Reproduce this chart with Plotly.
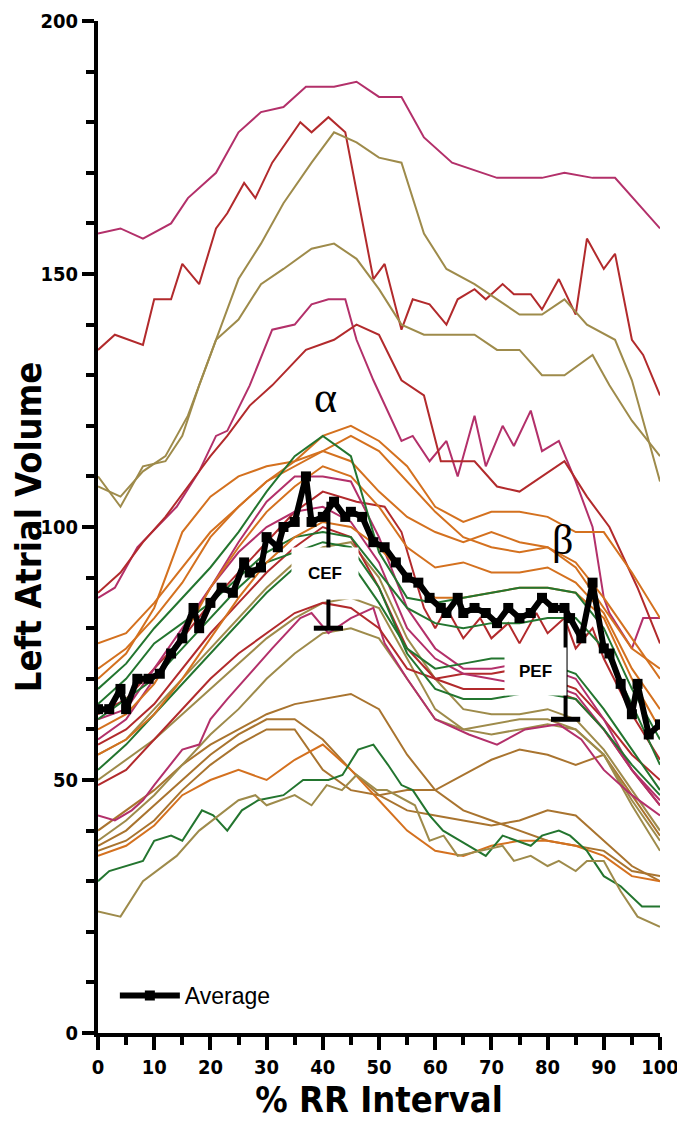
import plotly.graph_objects as go

# colours of the individual patient curves
MAG = '#B3306A'
RED = '#B22A2C'
OLV = '#9E8B4B'
BRN = '#A9742F'
ORG = '#D4711F'
GRN = '#23752F'

grid_x = [0, 5, 10, 15, 20, 25, 30, 35, 40, 45, 50, 55, 60, 65, 70, 75, 80, 85, 90, 95, 100]

# --- upper, well separated curves ---
mag_top_x = [0, 4, 8, 13, 16, 21, 25, 29, 33, 37, 42, 46, 50, 54, 58, 63, 71, 79, 83, 88, 92, 100]
mag_top_y = [158, 159, 157, 160, 165, 170, 178, 182, 183, 187, 187, 188, 185, 185, 177, 172, 169, 169, 170, 169, 169, 159]

red_top_x = [0, 3, 8, 10, 13, 15, 18, 21, 23, 26, 28, 31, 36, 38, 41, 44, 49, 51, 54, 56, 59, 62, 64, 67,
             69, 72, 74, 77, 79, 82, 85, 87, 90, 92, 95, 97, 100]
red_top_y = [135, 138, 136, 145, 145, 152, 148, 159, 162, 168, 165, 172, 180, 178, 181, 178, 149, 152, 139, 145,
             144, 140, 145, 147, 145, 148, 146, 146, 143, 149, 142, 157, 151, 154, 137, 134, 126]

olv_b_x = [0, 4, 8, 12, 15, 18, 22, 25, 29, 33, 38, 42, 46, 50, 54, 58, 62, 67, 75, 79, 83, 87, 92, 95, 100]
olv_b_y = [110, 104, 112, 113, 118, 128, 140, 149, 156, 164, 172, 178, 176, 173, 172, 158, 151, 148, 142, 142,
           145, 140, 137, 129, 109]

olv_a_x = [0, 4, 8, 12, 16, 21, 25, 29, 33, 38, 42, 46, 50, 54, 58, 67, 71, 75, 79, 83, 88, 91, 95, 100]
olv_a_y = [108, 106, 111, 114, 122, 137, 141, 148, 151, 155, 156, 153, 147, 140, 138, 138, 135, 135, 130, 130,
           134, 128, 121, 114]

mag_jag_x = [0, 3, 7, 14, 18, 21, 23, 27, 31, 35, 38, 41, 44, 46, 49, 54, 56, 59, 62, 64, 67, 69, 72, 74, 77,
             79, 82, 85, 88, 90, 91, 95, 97, 100]
mag_jag_y = [86, 88, 96, 104, 111, 118, 119, 128, 139, 140, 144, 145, 145, 137, 129, 117, 118, 113, 117, 110,
             122, 112, 120, 116, 123, 115, 117, 109, 100, 86, 83, 76, 82, 82]

red_mid_x = [0, 4, 8, 12, 16, 20, 23, 27, 31, 37, 42, 46, 50, 54, 58, 61, 67, 71, 75, 83, 87, 91, 96, 100]
red_mid_y = [87, 91, 97, 102, 108, 114, 118, 124, 128, 135, 137, 140, 138, 129, 126, 113, 113, 108, 107, 113,
             106, 100, 88, 77]

# --- central cluster (values at grid_x) ---
org_1 = [77, 79, 85, 92, 99, 104, 109, 113, 118, 120, 117, 112, 104, 101, 103, 103, 102, 99, 99, 91, 82]
org_2 = [72, 76, 82, 89, 98, 104, 109, 112, 115, 118, 115, 109, 103, 98, 96, 95, 96, 93, 86, 78, 70]
org_3 = [60, 63, 69, 78, 88, 96, 103, 108, 112, 110, 104, 96, 92, 93, 91, 91, 92, 89, 83, 72, 64]
org_4 = [55, 58, 63, 70, 78, 86, 93, 98, 101, 100, 96, 90, 86, 86, 87, 88, 88, 87, 82, 70, 60]
org_5 = [70, 75, 84, 99, 106, 110, 112, 113, 115, 113, 107, 102, 99, 97, 99, 97, 96, 92, 84, 76, 72]
org_low = [35, 37, 41, 47, 50, 52, 50, 54, 57, 52, 46, 40, 36, 35, 37, 38, 38, 37, 35, 31, 30]

grn_1 = [68, 73, 80, 86, 92, 99, 107, 114, 118, 114, 95, 86, 85, 86, 87, 88, 88, 87, 80, 68, 58]
grn_2 = [65, 70, 77, 81, 85, 90, 95, 98, 99, 98, 91, 84, 81, 80, 81, 81, 82, 82, 76, 65, 53]
grn_3 = [62, 66, 70, 76, 82, 88, 93, 95, 97, 96, 88, 75, 68, 66, 66, 67, 67, 66, 60, 53, 47]
grn_4 = [52, 57, 63, 69, 75, 81, 87, 92, 95, 93, 85, 76, 72, 73, 74, 74, 73, 71, 64, 56, 48]

mag_1 = [58, 62, 70, 79, 88, 97, 105, 110, 110, 109, 98, 84, 76, 72, 72, 73, 72, 70, 62, 52, 45]
mag_2 = [62, 64, 72, 80, 88, 95, 100, 103, 104, 101, 93, 80, 74, 71, 70, 69, 69, 67, 60, 52, 46]
mag_low_x = [0, 3, 6, 8, 10, 15, 18, 20, 23, 27, 31, 36, 38, 41, 45, 49, 51, 55, 60, 66, 71, 76, 82, 86, 90,
             95, 100]
mag_low_y = [43, 42, 44, 46, 49, 56, 57, 62, 66, 71, 76, 82, 83, 79, 82, 84, 77, 70, 62, 59, 57, 60, 61, 58,
             52, 47, 43]

red_1_x = [0, 5, 10, 15, 20, 25, 30, 35, 40, 46, 51, 54, 58, 60, 62, 65, 68, 70, 73, 75, 78, 80, 83, 85, 88,
           90, 95, 100]
red_1_y = [63, 66, 72, 78, 85, 91, 97, 103, 107, 105, 104, 99, 84, 80, 84, 78, 82, 78, 81, 77, 83, 79, 82,
           76, 80, 74, 63, 54]
red_2 = [57, 60, 65, 72, 79, 85, 91, 96, 100, 98, 88, 76, 70, 68, 68, 68, 68, 66, 60, 52, 45]
red_3 = [49, 52, 58, 64, 70, 75, 79, 83, 85, 84, 80, 72, 70, 71, 71, 72, 70, 68, 62, 55, 50]

olv_1 = [55, 58, 64, 70, 76, 82, 88, 93, 96, 97, 90, 78, 70, 64, 63, 63, 64, 62, 56, 48, 40]
olv_2 = [50, 54, 58, 63, 68, 73, 78, 82, 85, 86, 84, 74, 64, 60, 59, 60, 61, 60, 55, 46, 38]
olv_3 = [38, 42, 47, 53, 59, 64, 70, 75, 79, 80, 78, 70, 62, 60, 61, 62, 62, 60, 55, 45, 36]

brn_1 = [40, 44, 48, 53, 57, 60, 63, 65, 66, 67, 64, 55, 48, 44, 42, 40, 38, 37, 36, 32, 31]
brn_2 = [37, 40, 45, 50, 55, 59, 62, 62, 58, 52, 47, 48, 48, 51, 54, 56, 55, 53, 55, 47, 39]
brn_3 = [36, 38, 42, 48, 53, 57, 60, 60, 52, 48, 47, 44, 43, 42, 41, 42, 44, 43, 38, 33, 30]

# --- lowest curves ---
grn_low_x = [0, 2, 8, 10, 13, 15, 18.5, 20.5, 23, 25.6, 28.5, 33, 36.5, 41, 43.5, 46.3, 49, 51.6, 54, 56, 59,
             61.4, 64.4, 69, 72, 77, 79, 82, 84, 87, 90, 93, 96.8, 100]
grn_low_y = [30, 32, 34, 38, 39, 38, 44, 43, 40, 44, 46, 47, 50, 50, 51, 56, 57, 53, 49, 48, 43, 40, 38, 35,
             39, 37, 39, 40, 39, 36, 31, 29, 25, 25]

olv_low_x = [0, 4, 8, 14, 18, 25, 28, 30, 35, 38, 40.7, 43.4, 46, 49.6, 51.4, 56.4, 59, 61.5, 64, 72, 74, 77,
             80, 82, 85, 87, 90, 93, 96, 100]
olv_low_y = [24, 23, 30, 35, 40, 46, 47, 45, 47, 45, 49, 48, 51, 48, 48, 45, 38, 39, 35, 37, 34, 35, 33, 34,
             32, 34, 34, 28, 23, 21]

# --- average curve ---
avg_x = [0, 2, 4, 5, 7, 9, 11, 13, 15, 17, 18, 20, 22, 24, 26, 27, 29, 30, 32, 33, 35, 37, 38, 40, 42, 44,
         45, 47, 49, 51, 53, 55, 57, 59, 61, 62, 64, 65, 67, 69, 71, 73, 75, 77, 79, 81, 83, 84, 86, 88, 90,
         91, 93, 95, 96, 98, 100]
avg_y = [64, 64, 68, 64, 70, 70, 71, 75, 78, 84, 80, 85, 88, 87, 93, 91, 92, 98, 96, 100, 101, 110, 101,
         102, 105, 102, 103, 102, 97, 96, 93, 90, 89, 86, 84, 83, 86, 83, 84, 83, 81, 84, 82, 83, 86, 84, 84,
         82, 78, 89, 76, 75, 69, 63, 69, 59, 61]

# error bars (x, top, bottom)
cef_bar = [41, 105, 80]
pef_bar = [83.2, 84, 62]

curves = [
    (mag_top_x, mag_top_y, MAG), (red_top_x, red_top_y, RED),
    (olv_b_x, olv_b_y, OLV), (olv_a_x, olv_a_y, OLV),
    (mag_jag_x, mag_jag_y, MAG), (red_mid_x, red_mid_y, RED),
    (grid_x, brn_1, BRN), (grid_x, brn_2, BRN), (grid_x, brn_3, BRN),
    (grid_x, olv_3, OLV), (grid_x, olv_2, OLV), (grid_x, olv_1, OLV),
    (grid_x, org_low, ORG), (grn_low_x, grn_low_y, GRN), (olv_low_x, olv_low_y, OLV),
    (mag_low_x, mag_low_y, MAG), (grid_x, red_3, RED), (grid_x, red_2, RED),
    (red_1_x, red_1_y, RED), (grid_x, mag_2, MAG), (grid_x, mag_1, MAG),
    (grid_x, grn_4, GRN), (grid_x, grn_3, GRN), (grid_x, grn_2, GRN),
    (grid_x, org_4, ORG), (grid_x, org_3, ORG), (grid_x, org_2, ORG),
    (grid_x, org_5, ORG), (grid_x, org_1, ORG), (grid_x, grn_1, GRN),
]

FONT = "DejaVu Sans Condensed, Liberation Sans, Arial, sans-serif"

fig = go.Figure()

for xs, ys, col in curves:
    fig.add_trace(go.Scatter(x=xs, y=ys, mode='lines', line=dict(color=col, width=2),
                             showlegend=False, hoverinfo='skip'))

# error bars from the average down
for bx, top, bot in [cef_bar, pef_bar]:
    fig.add_trace(go.Scatter(x=[bx, bx], y=[top, bot], mode='lines',
                             line=dict(color='black', width=4), showlegend=False))
    fig.add_trace(go.Scatter(x=[bx - 2.6, bx + 2.6], y=[bot, bot], mode='lines',
                             line=dict(color='black', width=5), showlegend=False))

fig.add_trace(go.Scatter(
    x=avg_x, y=avg_y, mode='lines+markers', name='Average',
    line=dict(color='black', width=6),
    marker=dict(symbol='square', size=10, color='black')
))

fig.add_annotation(x=40.4, y=90.8, text="CEF", showarrow=False,
                   font=dict(family="Liberation Sans, Arial", size=17, color='black', weight='bold'),
                   bgcolor='white', borderpad=16)
fig.add_annotation(x=77.8, y=71.5, text="PEF", showarrow=False,
                   font=dict(family="Liberation Sans, Arial", size=17, color='black', weight='bold'),
                   bgcolor='white', borderpad=14)
fig.add_annotation(x=40.4, y=125.5, text="α", showarrow=False,
                   font=dict(family="Liberation Serif, Times New Roman, serif", size=44, color='black'))
fig.add_annotation(x=82.6, y=97.5, text="β", showarrow=False,
                   font=dict(family="Liberation Serif, Times New Roman, serif", size=42, color='black'))

fig.update_layout(
    width=685, height=1129,
    margin=dict(l=90, r=33, t=13, b=104),
    plot_bgcolor='white', paper_bgcolor='white',
    font=dict(family=FONT, color='black'),
    showlegend=True,
    legend=dict(x=0.03, y=0.037, xanchor='left', yanchor='middle', bgcolor='rgba(0,0,0,0)',
                font=dict(family="Liberation Sans, Arial", size=23, color='black'), itemwidth=60),
)

fig.update_xaxes(
    range=[0, 100], tickvals=[0, 10, 20, 30, 40, 50, 60, 70, 80, 90, 100],
    showline=True, linewidth=4, linecolor='black', mirror=False, automargin=False,
    ticks='outside', ticklen=13, tickwidth=4, tickcolor='black', ticklabeloverflow='allow',
    minor=dict(dtick=5, ticks='outside', ticklen=8, tickwidth=4, tickcolor='black'),
    showgrid=False, zeroline=False,
    tickfont=dict(family=FONT, size=20, color='black', weight='bold'),
    title=dict(text="% RR Interval", font=dict(family=FONT, size=36, color='black', weight='bold'), standoff=10),
)
fig.update_yaxes(
    range=[0, 200], tickvals=[0, 50, 100, 150, 200],
    showline=True, linewidth=4, linecolor='black', automargin=False,
    ticks='outside', ticklen=12, tickwidth=4, tickcolor='black', ticklabeloverflow='allow',
    minor=dict(dtick=10, ticks='outside', ticklen=8, tickwidth=4, tickcolor='black'),
    showgrid=False, zeroline=False,
    tickfont=dict(family=FONT, size=20, color='black', weight='bold'),
    title=dict(text="Left Atrial Volume", font=dict(family=FONT, size=36, color='black', weight='bold'), standoff=4),
)

fig.write_html("out.html")
